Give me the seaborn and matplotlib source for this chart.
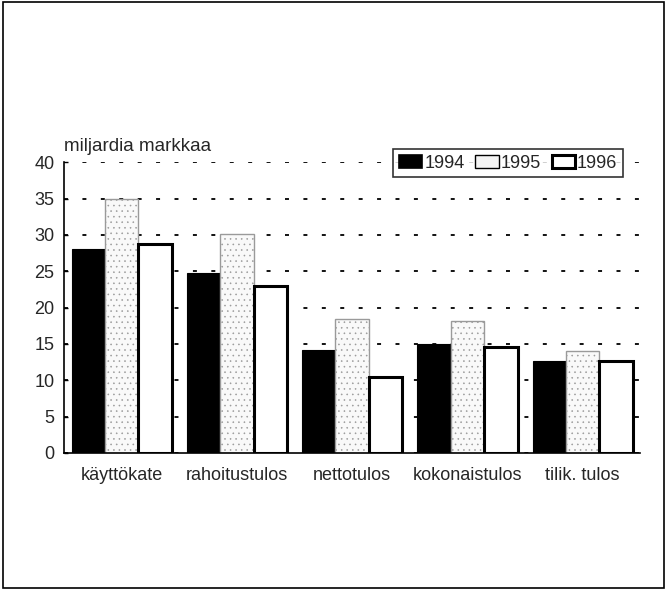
import pandas as pd
import matplotlib.pyplot as plt
import seaborn as sns
from matplotlib.patches import Rectangle, Patch

kategoriat = ['käyttökate', 'rahoitustulos', 'nettotulos', 'kokonaistulos', 'tilik. tulos']
vuodet = ['1994', '1995', '1996']
arvot_1994 = [28.1, 24.7, 14.2, 15.0, 12.7]
arvot_1995 = [35.0, 30.1, 18.4, 18.2, 14.0]
arvot_1996 = [28.7, 23.0, 10.4, 14.6, 12.7]

df = pd.DataFrame({
    'kategoria': kategoriat * 3,
    'vuosi': [v for v in vuodet for _ in kategoriat],
    'arvo': arvot_1994 + arvot_1995 + arvot_1996,
})

sns.set_style("white")
plt.rcParams['font.family'] = ['Liberation Sans', 'DejaVu Sans']
plt.rcParams['hatch.linewidth'] = 0.4

fig = plt.figure(figsize=(6.67, 5.92), dpi=100)
ax = fig.add_axes([0.096, 0.235, 0.864, 0.491])

sns.barplot(data=df, x='kategoria', y='arvo', hue='vuosi', order=kategoriat,
            hue_order=vuodet, width=0.87, palette=['black', 'white', 'white'],
            ax=ax, legend=False)

# 1994 musta, 1995 pilkullinen, 1996 valkoinen paksulla reunalla
tyylit = [
    dict(facecolor='black', edgecolor='black', lw=0.8, hatch=None),
    dict(facecolor='#f9f9f9', edgecolor='#9a9a9a', lw=1.0, hatch='...'),
    dict(facecolor='white', edgecolor='black', lw=2.2, hatch=None),
]
for cont, st in zip(ax.containers, tyylit):
    for p in cont.patches:
        p.set_facecolor(st['facecolor'])
        p.set_edgecolor(st['edgecolor'])
        p.set_linewidth(st['lw'])
        if st['hatch']:
            p.set_hatch(st['hatch'])

ax.set_ylim(0, 40)
ax.set_yticks(range(0, 41, 5))
ax.set_xlim(-0.5, 4.5)
ax.yaxis.grid(True, color='black', linestyle=(0, (2.2, 8)), linewidth=1.3)
ax.set_axisbelow(True)
for s in ['top', 'right']:
    ax.spines[s].set_visible(False)
for s in ['left', 'bottom']:
    ax.spines[s].set_color('black')
    ax.spines[s].set_linewidth(1.2)
ax.tick_params(axis='y', length=3, width=1, color='black', labelsize=13, pad=7,
               direction='in', left=True)
ax.tick_params(axis='x', length=0, labelsize=13, pad=10)
ax.set_xlabel('')
ax.set_ylabel('')
ax.text(0.0, 1.025, 'miljardia markkaa', transform=ax.transAxes, fontsize=13.5,
        ha='left', va='bottom')

kahvat = [
    Patch(facecolor='black', edgecolor='black', lw=1.2),
    Patch(facecolor='#f4f4f4', edgecolor='black', lw=1.0),
    Patch(facecolor='white', edgecolor='black', lw=2.2),
]
leg = ax.legend(kahvat, vuodet, ncol=3, loc='upper right', bbox_to_anchor=(0.985, 1.075),
                frameon=True, fontsize=13, handlelength=1.3, handleheight=0.7,
                handletextpad=0.1, columnspacing=0.6, borderpad=0.3, fancybox=False)
leg.get_frame().set_edgecolor('black')
leg.get_frame().set_linewidth(1.2)

fig.patches.append(Rectangle((0.004, 0.006), 0.992, 0.99, transform=fig.transFigure,
                             fill=False, edgecolor='black', lw=1.2))

fig.savefig('out.png', dpi=100)
